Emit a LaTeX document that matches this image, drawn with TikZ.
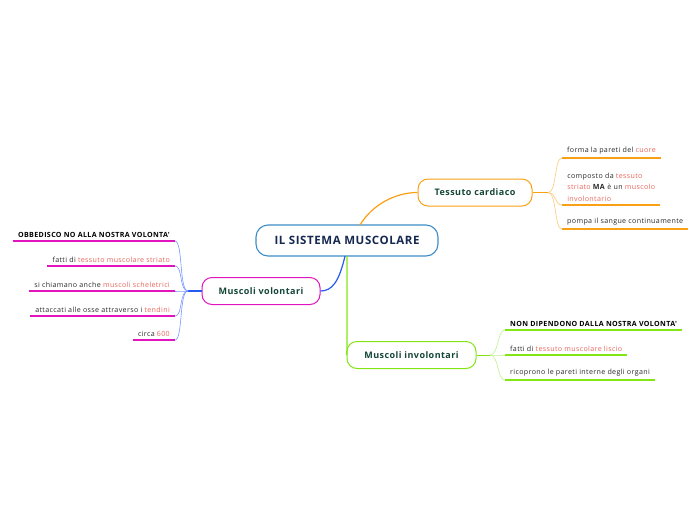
\documentclass[tikz,border=0pt]{standalone}
\usepackage{fontspec}
\setmainfont{Open Sans}
\newfontfamily\mapfont[LetterSpace=5]{Open Sans}
\usepackage{tikz}
\usetikzlibrary{positioning}
\definecolor{rootblue}{RGB}{60,140,200}
\definecolor{rootink}{RGB}{20,40,80}
\definecolor{topicink}{RGB}{20,70,55}
\definecolor{leafink}{RGB}{40,40,40}
\definecolor{hlred}{RGB}{232,100,90}
\definecolor{cardorange}{RGB}{250,160,20}
\definecolor{cardtwig}{RGB}{252,200,120}
\definecolor{volmagenta}{RGB}{225,20,190}
\definecolor{voltwig}{RGB}{120,150,255}
\definecolor{volblue}{RGB}{40,90,240}
\definecolor{invgreen}{RGB}{130,230,20}
\definecolor{invtwig}{RGB}{190,240,140}
\newcommand*\hl[1]{\textcolor{hlred}{#1}}
\tikzset{
    root/.style   = {draw=rootblue, line width=1.1pt, rounded corners=12pt,
                    fill=white, minimum width=182pt, minimum height=31pt,
                    font=\mapfont\fontsize{11.5}{13}\selectfont\bfseries, text=rootink},
    topic/.style  = {draw, line width=1pt, rounded corners=10pt, fill=white,
                    minimum height=27pt, inner xsep=4pt,
                    font=\mapfont\fontsize{9}{11}\selectfont\bfseries, text=topicink},
    leaf/.style   = {inner xsep=5pt, inner ysep=3.5pt, text=leafink,
                    font=\mapfont\fontsize{7.1}{11.5}\selectfont},
    boldleaf/.style = {leaf, font=\mapfont\fontsize{7.1}{11.5}\selectfont\bfseries, text=black},
    ul/.style     = {line width=1.8pt},
    twig/.style   = {line width=0.6pt},
    stem/.style   = {line width=1.2pt},
  }
\begin{document}
\begin{tikzpicture}[x=1pt,y=-1pt]
      \useasboundingbox (0,0) rectangle (696,520);

      % main idea and the three topics
      \node[root] (root) at (347,240.5) {IL SISTEMA MUSCOLARE};
      \node[topic, draw=cardorange, minimum width=114pt] (card) at (475,192.5) {Tessuto cardiaco};
      \node[topic, draw=volmagenta, minimum width=118pt] (vol) at (261,291) {Muscoli volontari};
      \node[topic, draw=invgreen, minimum width=129pt] (inv) at (411.5,355) {Muscoli involontari};

      % stems from the main idea
      \draw[stem, cardorange] (360,225) .. controls (372,205) and (395,192.5) .. (card.west);
      \draw[stem, volblue] (345,256) .. controls (339,282) and (332,291) .. (vol.east);
      \draw[stem, invgreen] (347,256) -- (347,343) .. controls (347,350) .. (inv.west);

      % hubs next to each topic
      \coordinate (hubC) at (548,192.5);
      \coordinate (hubV) at (188,291);
      \coordinate (hubI) at (490,355);
      \draw[twig, cardorange, line width=0.9pt] (card.east) -- (hubC);
      \draw[twig, volblue, line width=1.2pt] (vol.west) -- (hubV);
      \draw[twig, invgreen, line width=0.9pt] (inv.east) -- (hubI);

      % Tessuto cardiaco
      \node[leaf, anchor=south west] (c1) at (562,158) {forma la pareti del \hl{cuore}};
      \node[leaf, anchor=south west, align=left, minimum width=98pt] (c2) at (562,205)
           {composto da \hl{tessuto}\\\hl{striato} \textbf{MA} è un \hl{muscolo}\\\hl{involontario}};
      \node[leaf, anchor=south west] (c3) at (562,229) {pompa il sangue continuamente};
      \foreach \n in {c1,c2,c3} {
        \draw[twig, cardtwig] (hubC) .. controls +(9,0) and +(-8,0) .. (\n.south west);
        \draw[ul, cardorange] (\n.south west) -- (\n.south east);
      }

      % Muscoli volontari
      \node[boldleaf, anchor=south east] (v1) at (175,241) {OBBEDISCO NO ALLA NOSTRA VOLONTA'};
      \node[leaf, anchor=south east] (v2) at (175,266) {fatti di \hl{tessuto muscolare striato}};
      \node[leaf, anchor=south east] (v3) at (175,291) {si chiamano anche \hl{muscoli scheletrici}};
      \node[leaf, anchor=south east] (v4) at (175,316) {attaccati alle osse attraverso i \hl{tendini}};
      \node[leaf, anchor=south east] (v5) at (175,340) {circa \hl{600}};
      \foreach \n in {v1,v2,v3,v4,v5} {
        \draw[twig, voltwig] (hubV) .. controls +(-9,0) and +(8,0) .. (\n.south east);
        \draw[ul, volmagenta] (\n.south west) -- (\n.south east);
      }

      % Muscoli involontari
      \node[boldleaf, anchor=south west] (i1) at (505,330) {NON DIPENDONO DALLA NOSTRA VOLONTA'};
      \node[leaf, anchor=south west] (i2) at (505,355) {fatti di \hl{tessuto muscolare liscio}};
      \node[leaf, anchor=south west] (i3) at (505,380) {ricoprono le pareti interne degli organi};
      \foreach \n in {i1,i2,i3} {
        \draw[twig, invtwig] (hubI) .. controls +(9,0) and +(-8,0) .. (\n.south west);
        \draw[ul, invgreen] (\n.south west) -- (\n.south east);
      }
    \end{tikzpicture}
\end{document}
